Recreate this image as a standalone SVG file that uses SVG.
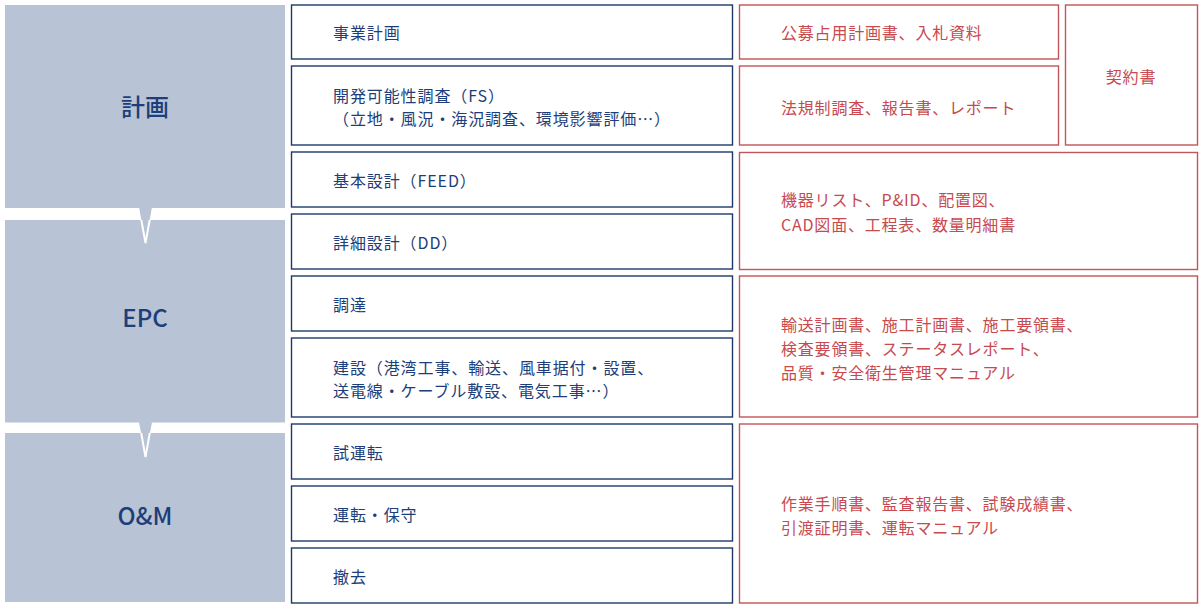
<svg xmlns="http://www.w3.org/2000/svg" width="1203" height="609" viewBox="0 0 1203 609">
<style>
.ph{fill:#b8c3d6}
.pt{font-family:"Noto Sans CJK JP","Noto Sans",sans-serif;font-size:24px;fill:#1d3e78;text-anchor:middle;dominant-baseline:central;font-weight:500}
.tab{fill:#b8c3d6}
.tabl{fill:none;stroke:#ffffff;stroke-width:2;stroke-linejoin:miter}
.mb{fill:#ffffff;stroke:#1d3a6a;stroke-width:1.4}
.rb{fill:#ffffff;stroke:#c0555a;stroke-width:1.4}
.mt{font-family:"Noto Sans CJK JP","Noto Sans",sans-serif;font-size:16px;fill:#1d3e78;letter-spacing:0.9px;dominant-baseline:central}
.rt{font-family:"Noto Sans CJK JP","Noto Sans",sans-serif;font-size:16px;fill:#c8494e;letter-spacing:0.8px;dominant-baseline:central}
</style>
<rect width="1203" height="609" fill="#ffffff"/>
<g id="phase-plan"><rect class="ph" x="5" y="5" width="280" height="203"/><text class="pt" x="145" y="105.5">計画</text></g>
<g id="phase-epc"><rect class="ph" x="5" y="220" width="280" height="202.5"/><text class="pt" x="145" y="316.5">EPC</text></g>
<g id="phase-om"><rect class="ph" x="5" y="433" width="280" height="169"/><text class="pt" x="145" y="514.5">O&amp;M</text></g>
<g id="connectors">
<polygon class="tab" points="139,207 152,207 145.5,243"/>
<polyline class="tabl" points="141.3,220 145.5,243 149.7,220"/>
<polygon class="tab" points="139,422 152,422 145.5,457"/>
<polyline class="tabl" points="141.2,433 145.5,457 149.8,433"/>
</g>
<g id="step-1"><rect class="mb" x="291.5" y="5" width="441" height="54"/><text class="mt" x="333" y="32">事業計画</text></g>
<g id="step-2"><rect class="mb" x="291.5" y="66" width="441" height="79"/><text class="mt" x="333" y="95">開発可能性調査（FS）</text><text class="mt" x="333" y="118">（立地・風況・海況調査、環境影響評価…）</text></g>
<g id="step-3"><rect class="mb" x="291.5" y="152" width="441" height="55"/><text class="mt" x="333" y="180">基本設計（FEED）</text></g>
<g id="step-4"><rect class="mb" x="291.5" y="214" width="441" height="55"/><text class="mt" x="333" y="242">詳細設計（DD）</text></g>
<g id="step-5"><rect class="mb" x="291.5" y="276" width="441" height="55"/><text class="mt" x="333" y="304">調達</text></g>
<g id="step-6"><rect class="mb" x="291.5" y="338" width="441" height="79"/><text class="mt" x="333" y="367">建設（港湾工事、輸送、風車据付・設置、</text><text class="mt" x="333" y="390">送電線・ケーブル敷設、電気工事…）</text></g>
<g id="step-7"><rect class="mb" x="291.5" y="424" width="441" height="55"/><text class="mt" x="333" y="452">試運転</text></g>
<g id="step-8"><rect class="mb" x="291.5" y="486" width="441" height="55"/><text class="mt" x="333" y="514">運転・保守</text></g>
<g id="step-9"><rect class="mb" x="291.5" y="548" width="441" height="55"/><text class="mt" x="333" y="576">撤去</text></g>
<g id="doc-1"><rect class="rb" x="739.5" y="5" width="319" height="54"/><text class="rt" x="781" y="32">公募占用計画書、入札資料</text></g>
<g id="doc-2"><rect class="rb" x="739.5" y="66" width="319" height="79"/><text class="rt" x="781" y="107">法規制調査、報告書、レポート</text></g>
<g id="doc-contract"><rect class="rb" x="1065.5" y="5" width="132" height="140"/><text class="rt" x="1131" y="76" text-anchor="middle">契約書</text></g>
<g id="doc-3"><rect class="rb" x="739.5" y="152.5" width="458" height="117"/><text class="rt" x="781" y="199">機器リスト、P&amp;ID、配置図、</text><text class="rt" x="781" y="224">CAD図面、工程表、数量明細書</text></g>
<g id="doc-4"><rect class="rb" x="739.5" y="276" width="458" height="141"/><text class="rt" x="781" y="324">輸送計画書、施工計画書、施工要領書、</text><text class="rt" x="781" y="348">検査要領書、ステータスレポート、</text><text class="rt" x="781" y="372">品質・安全衛生管理マニュアル</text></g>
<g id="doc-5"><rect class="rb" x="739.5" y="424" width="458" height="179"/><text class="rt" x="781" y="503">作業手順書、監査報告書、試験成績書、</text><text class="rt" x="781" y="527">引渡証明書、運転マニュアル</text></g>
</svg>
